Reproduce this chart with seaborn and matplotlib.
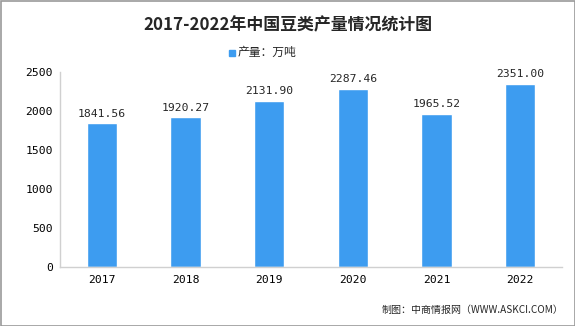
import matplotlib
matplotlib.use("Agg")
import matplotlib.pyplot as plt
import seaborn as sns
import pandas as pd
import numpy as np

years = ["2017", "2018", "2019", "2020", "2021", "2022"]
values = [1841.56, 1920.27, 2131.90, 2287.46, 1965.52, 2351.00]
title = "2017-2022年中国豆类产量情况统计图"
legend_label = "产量：万吨"
source = "制图：中商情报网（WWW.ASKCI.COM）"

sns.set_theme(style="white")
plt.rcParams['font.family'] = ['Noto Sans CJK SC', 'DejaVu Sans']
num_font = ['DejaVu Sans Mono', 'DejaVu Sans']

df = pd.DataFrame({"year": years, "value": values})

fig = plt.figure(figsize=(5.75, 3.26), dpi=100)
ax = fig.add_axes([60/575, 1-267/326, 502/575, 195/326])
color = "#3d9cf0"
sns.barplot(data=df, x="year", y="value", color=color, width=0.36, ax=ax, saturation=1)

ax.set_ylim(0, 2500)
ax.set_xlim(-0.5, 5.5)
ax.set_yticks([0, 500, 1000, 1500, 2000, 2500])
ax.set_xlabel("")
ax.set_ylabel("")
for s in ["top", "right"]:
    ax.spines[s].set_visible(False)
for s in ["left", "bottom"]:
    ax.spines[s].set_color("#d0d0d0")
    ax.spines[s].set_linewidth(1)
ax.tick_params(axis="x", colors="#000000", length=0, pad=6)
ax.tick_params(axis="y", colors="#000000", length=0, pad=5)
ax.set_xticks(np.arange(-0.5, 6, 1), minor=True)
ax.tick_params(axis="x", which="minor", length=4, color="#d0d0d0")
for lbl in ax.get_xticklabels() + ax.get_yticklabels():
    lbl.set_fontfamily(num_font)
    lbl.set_fontsize(8.2)

for i, v in enumerate(values):
    ax.text(i, v + 60, f"{v:.2f}", ha="center", va="bottom", fontsize=8.2,
            family=num_font)

fig.text(0.5, 1-25/326, title, ha="center", va="center", fontsize=12.2,
         fontweight="bold", family=['Noto Sans CJK SC', 'DejaVu Sans'])
fig.patches.append(plt.Rectangle((229/575, 1-55.5/326), 6/575, 6/326,
                                 transform=fig.transFigure, color=color, figure=fig))
fig.text(238/575, 1-52/326, legend_label, ha="left", va="center", fontsize=8.5)
fig.text(563/575, 1-310/326, source, ha="right", va="center", fontsize=7.2)

fig.patches.append(plt.Rectangle((0.5/575, 0.5/326), 1-1/575, 1-1/326, fill=False,
                                 edgecolor="#999999", linewidth=1.2,
                                 transform=fig.transFigure, figure=fig))

fig.savefig("out.png", dpi=100)
